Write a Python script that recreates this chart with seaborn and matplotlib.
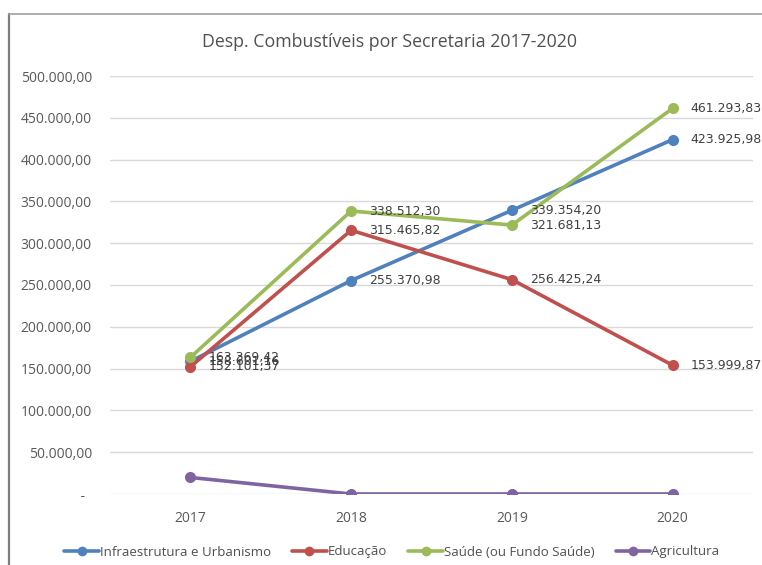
import matplotlib
matplotlib.use("Agg")
import matplotlib.pyplot as plt
import seaborn as sns
import pandas as pd
from matplotlib.ticker import FuncFormatter, MultipleLocator
from matplotlib.lines import Line2D

# ---- data ----
years = [2017, 2018, 2019, 2020]
infra = [158601.16, 255370.98, 339354.20, 423925.98]
educacao = [152101.37, 315465.82, 256425.24, 153999.87]
saude = [163369.42, 338512.30, 321681.13, 461293.83]
agricultura = [19800.00, 0.0, 0.0, 0.0]
series_names = ["Infraestrutura e Urbanismo", "Educação", "Saúde (ou Fundo Saúde)", "Agricultura"]
colors = ["#4F81BD", "#C0504D", "#9BBB59", "#8064A2"]
title = "Desp. Combustíveis por Secretaria 2017-2020"

rows = []
for name, vals in zip(series_names, [infra, educacao, saude, agricultura]):
    for y, v in zip(years, vals):
        rows.append({"Ano": y, "Valor": v, "Secretaria": name})
df = pd.DataFrame(rows)

def br(v):
    s = f"{v:,.2f}"
    return s.replace(",", "X").replace(".", ",").replace("X", ".")

sns.set_theme(style="white")
plt.rcParams["font.family"] = ["Open Sans", "DejaVu Sans"]

fig = plt.figure(figsize=(7.62, 5.65), dpi=100)
ax = fig.add_axes([110/762, 1-494/565, (753-110)/762, (494-76)/565])

sns.lineplot(data=df, x="Ano", y="Valor", hue="Secretaria", hue_order=series_names,
             palette=colors, marker="o", markersize=8, markeredgewidth=0,
             linewidth=2.6, ax=ax, legend=False)

# data labels
for name, vals in zip(series_names[:3], [infra, educacao, saude]):
    for y, v in zip(years, vals):
        ax.annotate(br(v), (y, v), xytext=(13, 0), textcoords="offset points",
                    va="center", ha="left", fontsize=9, color="#404040",
                    family="DejaVu Sans")

ax.set_xlim(2016.5, 2020.5)
ax.set_ylim(0, 500000)
ax.set_xticks(years)
ax.set_xticklabels([str(y) for y in years])
ax.yaxis.set_major_locator(MultipleLocator(50000))
ax.yaxis.set_major_formatter(FuncFormatter(lambda v, p: " -  " if v == 0 else br(v)))
ax.grid(axis="y", color="#D9D9D9", linewidth=1)
ax.set_axisbelow(True)
for s in ax.spines.values():
    s.set_visible(False)
ax.tick_params(axis="both", length=0, labelsize=10, labelcolor="#595959")
ax.tick_params(axis="y", pad=13)
ax.tick_params(axis="x", pad=12)
ax.set_xlabel("")
ax.set_ylabel("")

fig.text(390/762, 1-42/565, title, ha="center", va="center", fontsize=12.8, color="#505050")

handles = [Line2D([0], [0], color=c, lw=2.6, marker="o", markersize=7, markeredgewidth=0)
           for c in colors]
fig.legend(handles, series_names, loc="center", bbox_to_anchor=(392/762, 1-552/565),
           ncol=4, frameon=False, fontsize=9.5, handlelength=2.6, handletextpad=0.1,
           columnspacing=1.6, labelcolor="#505050")

# chart border
fig.add_artist(Line2D([9/762, 9/762], [0, 1-14/565], color="#7F7F7F", lw=1.6, transform=fig.transFigure))
fig.add_artist(Line2D([9/762, 1], [1-14/565, 1-14/565], color="#9F9F9F", lw=1.2, transform=fig.transFigure))

fig.savefig("out.png", dpi=100)
